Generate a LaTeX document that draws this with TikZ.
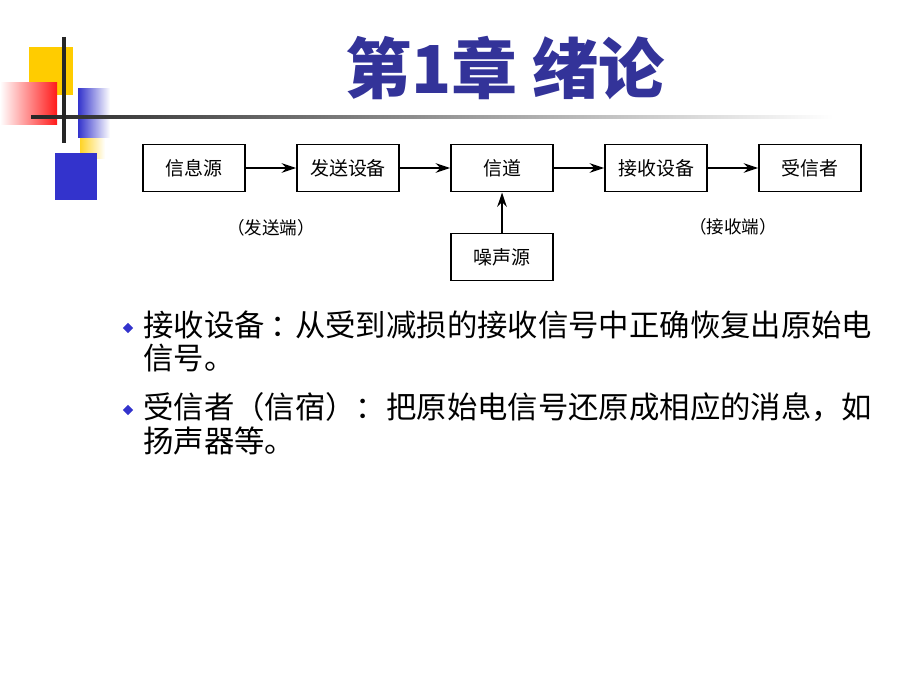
\documentclass[tikz,border=0pt]{standalone}
\usepackage{fontspec}
\newfontfamily\cjk{Noto Sans CJK SC}
\usetikzlibrary{positioning,calc,arrows.meta,shapes.geometric}
\definecolor{titleblue}{RGB}{51,51,153}
\definecolor{decoyellow}{RGB}{255,204,0}
\definecolor{decoblue}{RGB}{51,51,204}
\tikzset{
  blk/.style={draw,line width=1.4pt,minimum width=2.55cm,minimum height=1.175cm,
    font=\cjk\fontsize{13.5}{15}\selectfont},
  sig/.style={line width=1.2pt,-{Stealth[length=3.6mm,width=2.4mm,inset=1.2mm]}},
  side/.style={font=\cjk\fontsize{12.5}{14}\selectfont},
  bulletmark/.style={diamond,fill=decoblue,inner sep=0pt,minimum size=2.6mm},
  itemline/.style={anchor=west,inner sep=0pt,font=\cjk\fontsize{21.6}{24}\selectfont}
}
\begin{document}
\begin{tikzpicture}[x=0.025cm,y=-0.025cm]
    \useasboundingbox (0,0) rectangle (920,690);
    % corner decoration
    \fill[decoyellow] (29,47) rectangle (73,95);
    \shade[left color=white,right color=red!90] (0,83) rectangle (57,124);
    \shade[left color=decoblue,right color=white] (78,89) rectangle (110,137);
    \shade[left color=decoyellow!85,right color=white] (80,138) rectangle (105,158);
    \fill[decoblue] (55,153) rectangle (97,200);
    \shade[left color=black!85,right color=white] (31,115.5) rectangle (833,118.5);
    \draw[black!85,line width=2.8pt] (64,37) -- (64,143);
    % title
    \node[text=titleblue,font=\cjk\bfseries\fontsize{47}{50}\selectfont] (title) at (505,68) {第1章 绪论};
    % block diagram
    \node[blk] (src) at (194,168) {信息源};
    \node[blk,right=1.25cm of src] (tx) {发送设备};
    \node[blk,right=1.25cm of tx] (chan) {信道};
    \node[blk,right=1.25cm of chan] (rx) {接收设备};
    \node[blk,right=1.25cm of rx] (dst) {受信者};
    \node[blk,below=1.0cm of chan] (noise) {噪声源};
    \draw[sig] (src) -- (tx);
    \draw[sig] (tx) -- (chan);
    \draw[sig] (chan) -- (rx);
    \draw[sig] (rx) -- (dst);
    \draw[sig] (noise) -- (chan);
    \node[side] (txside) at ($(src)!0.5!(tx)+(0,60)$) {（发送端）};
    \node[side] (rxside) at ($(rx)!0.5!(dst)+(0,59)$) {（接收端）};
    % bullet text
    \node[bulletmark] (b1) at (128,328) {};
    \node[itemline] (l1) at (143,325) {接收设备\kern0.2em：\kern-0.2em从受到减损的接收信号中正确恢复出原始电};
    \node[itemline] (l2) at (143,358) {信号。};
    \node[bulletmark] (b2) at (128,410) {};
    \node[itemline] (l3) at (143,407) {受信者（信宿）：把原始电信号还原成相应的消息，如};
    \node[itemline] (l4) at (143,441) {扬声器等。};
\end{tikzpicture}
\end{document}
